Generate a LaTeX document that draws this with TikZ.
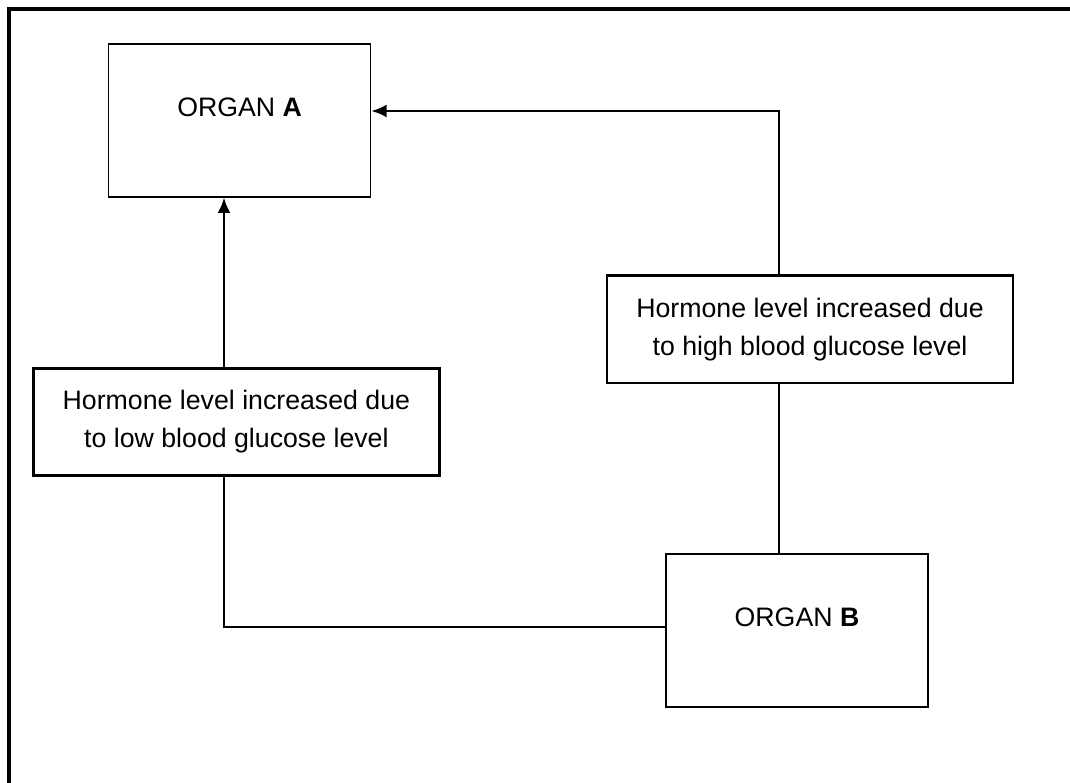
\documentclass[tikz,border=0pt]{standalone}
\usepackage{fontspec}
\setmainfont{Liberation Sans}
\usetikzlibrary{arrows.meta}

\begin{document}
\begin{tikzpicture}[
    font=\fontsize{19}{27}\selectfont,
    >={Latex[length=0.38cm,width=0.32cm]},
    organ/.style={draw, line width=1pt, minimum width=6.55cm, minimum height=3.82cm, text depth=0.65cm},
    hormone/.style={draw, line width=2pt, minimum width=10.15cm, minimum height=2.68cm, align=center},
    link/.style={line width=1.5pt}]
    \useasboundingbox (0,0) rectangle (26.75,19.575);
    \draw[line width=0.1cm] (0.22,0) -- (0.22,19.35) -- (26.75,19.35);

    \node[organ] (A) at (5.99, 16.56) {ORGAN \textbf{A}};
    \node[organ] (B) at (19.925, 3.81) {ORGAN \textbf{B}};
    \node[hormone] (L) at (5.91, 9.03) {Hormone level increased due\\to low blood glucose level};
    \node[hormone] (H) at (20.25, 11.34) {Hormone level increased due\\to high blood glucose level};

    \coordinate (hk) at (19.475, 16.8);
    \coordinate (lk) at (5.6, 3.9);

    \draw[link, ->] (H.north -| hk) -- (hk) -- (A.east |- hk);
    \draw[link] (H.south -| hk) -- (B.north -| hk);
    \draw[link] (B.west |- lk) -- (lk) -- (L.south -| lk);
    \draw[link, ->] (L.north -| lk) -- (A.south -| lk);
\end{tikzpicture}
\end{document}
